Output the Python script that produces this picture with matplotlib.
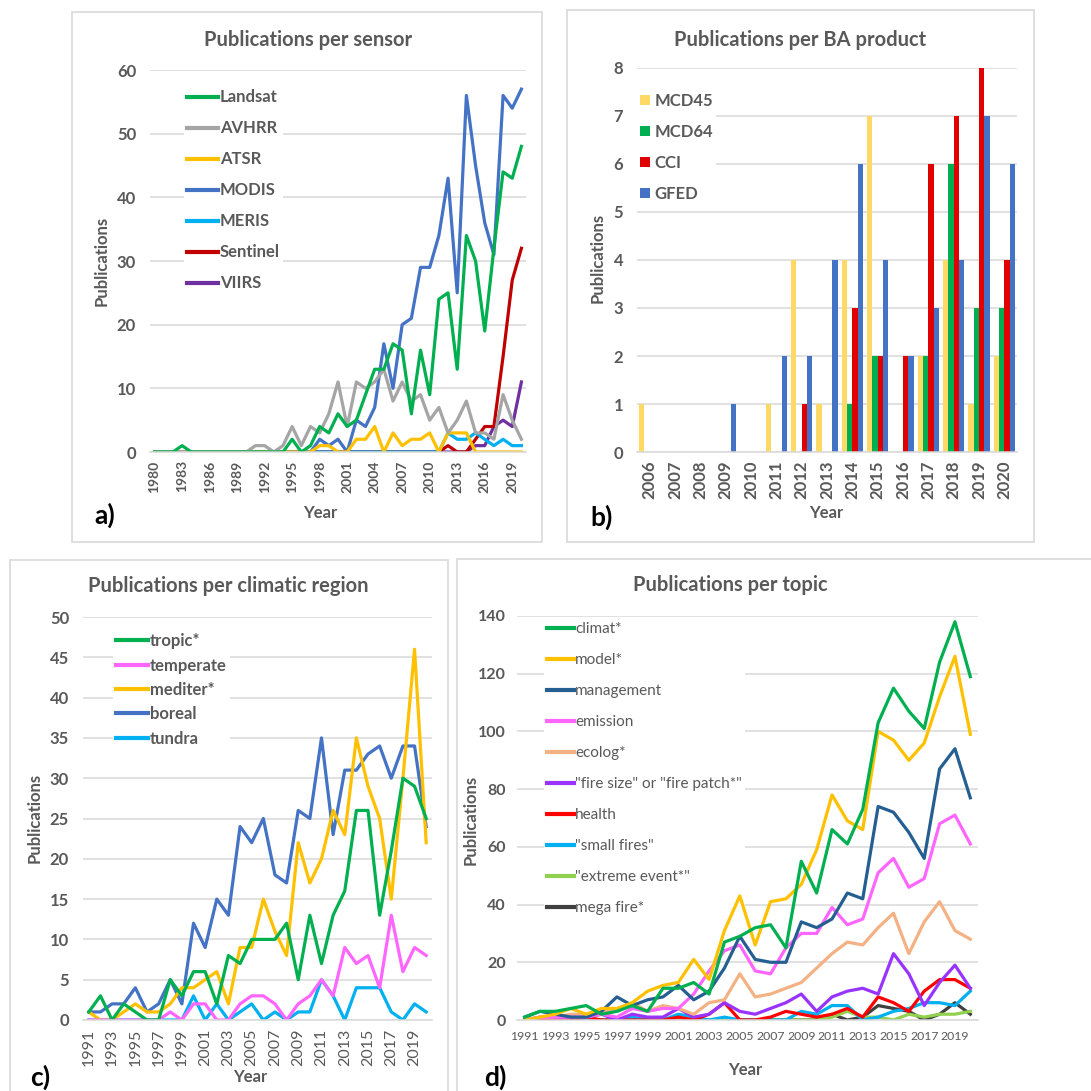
import matplotlib
matplotlib.use("Agg")
import matplotlib.pyplot as plt
from matplotlib.patches import Rectangle, Patch
from matplotlib.lines import Line2D
import numpy as np

plt.rcParams['font.family'] = ['Lato', 'DejaVu Sans']

# ---------------- data ----------------
years_a = list(range(1980, 2021))
landsat = [0,0,0,1,0,0,0,0,0,0,0,0,0,0,0,2,0,1,4,3,6,4,5,9,13,13,17,16,6,16,9,24,25,13,34,30,19,32,44,43,48]
avhrr   = [0,0,0,0,0,0,0,0,0,0,0,1,1,0,1,4,1,4,3,6,11,4,11,10,11,13,8,11,8,9,5,7,3,5,8,3,3,2,9,5,2]
atsr    = [0,0,0,0,0,0,0,0,0,0,0,0,0,0,0,0,0,0,1,1,0,0,2,2,4,0,3,1,2,2,3,0,3,3,3,0,0,0,0,0,0]
modis   = [0,0,0,0,0,0,0,0,0,0,0,0,0,0,0,0,0,0,2,1,2,0,5,4,7,17,10,20,21,29,29,34,43,25,56,45,36,31,56,54,57]
meris   = [0,0,0,0,0,0,0,0,0,0,0,0,0,0,0,0,0,0,0,0,0,0,0,0,0,0,0,0,0,0,0,0,3,2,2,3,2,1,2,1,1]
sentinel= [0,0,0,0,0,0,0,0,0,0,0,0,0,0,0,0,0,0,0,0,0,0,0,0,0,0,0,0,0,0,0,0,1,0,0,2,4,4,15,27,32]
viirs   = [0,0,0,0,0,0,0,0,0,0,0,0,0,0,0,0,0,0,0,0,0,0,0,0,0,0,0,0,0,0,0,0,0,0,0,1,1,4,5,4,11]
sensor_names = ["Landsat", "AVHRR", "ATSR", "MODIS", "MERIS", "Sentinel", "VIIRS"]
sensor_colors = ["#00B050", "#A5A5A5", "#FFC000", "#4472C4", "#00B0F0", "#C00000", "#7030A0"]

years_b = list(range(2006, 2021))
mcd45 = [1,0,0,0,0,1,4,1,4,7,0,2,4,1,2]
mcd64 = [0,0,0,0,0,0,0,0,1,2,0,2,6,3,3]
cci   = [0,0,0,0,0,0,1,0,3,2,2,6,7,8,4]
gfed  = [0,0,0,1,0,2,2,4,6,4,2,3,4,7,6]
product_names = ["MCD45", "MCD64", "CCI", "GFED"]
product_colors = ["#FFD966", "#00B050", "#E00000", "#4472C4"]

years_cd = list(range(1991, 2021))
tropic    = [1,3,0,2,1,0,0,5,3,6,6,2,8,7,10,10,10,12,5,13,7,13,16,26,26,13,21,30,29,25]
temperate = [0,0,0,0,0,0,0,1,0,2,2,0,0,2,3,3,2,0,2,3,5,3,9,7,8,4,13,6,9,8]
mediter   = [1,0,0,1,2,1,1,2,4,4,5,6,2,9,9,15,11,8,22,17,20,26,23,35,29,25,15,30,46,22]
boreal    = [1,1,2,2,4,1,2,5,2,12,9,15,13,24,22,25,18,17,26,25,35,23,31,31,33,34,30,34,34,24]
tundra    = [0,0,0,0,0,0,0,0,0,3,0,2,0,1,2,0,1,0,1,1,5,3,0,4,4,4,1,0,2,1]
region_names = ["tropic*", "temperate", "mediter*", "boreal", "tundra"]
region_colors = ["#00B050", "#FF66FF", "#FFC000", "#4472C4", "#00B0F0"]

climat     = [1,3,3,4,5,2,3,5,3,11,11,13,9,27,29,32,33,25,55,44,66,61,73,103,115,107,101,124,138,119]
model      = [0,1,2,4,2,4,4,6,10,12,13,21,14,31,43,26,41,42,47,59,78,69,66,100,97,90,96,112,126,99]
management = [1,3,2,1,1,3,8,5,7,8,12,7,10,18,29,21,20,20,34,32,35,44,42,74,72,65,56,87,94,77]
emission   = [0,1,1,1,1,2,1,4,3,4,4,9,17,24,26,17,16,25,30,30,39,33,35,51,56,46,49,68,71,61]
ecolog     = [0,1,1,2,2,3,3,6,3,5,4,2,6,7,16,8,9,11,13,18,23,27,26,32,37,23,34,41,31,28]
fire_size  = [0,1,1,1,1,2,0,2,1,1,4,1,2,6,3,2,4,6,9,3,8,10,11,9,23,16,5,13,19,11]
health     = [0,0,0,0,1,0,0,0,0,0,1,0,2,6,0,0,1,3,2,1,2,4,1,8,6,3,10,14,14,11]
small_fires= [0,0,0,0,0,0,0,1,0,0,2,1,0,1,0,0,0,0,3,2,5,5,0,1,3,4,6,6,5,10]
extreme    = [0,0,0,0,0,0,0,0,0,0,0,0,0,0,0,0,0,0,0,0,1,3,1,1,0,2,1,2,2,3]
mega_fire  = [0,0,0,0,0,0,0,0,0,0,0,0,0,0,0,0,0,0,0,0,2,0,1,5,4,3,0,2,6,2]
topic_names = ["climat*", "model*", "management", "emission", "ecolog*",
               "\"fire size\" or \"fire patch*\"", "health", "\"small fires\"",
               "\"extreme event*\"", "mega fire*"]
topic_colors = ["#00B050", "#FFC000", "#255E91", "#FF66FF", "#F4B183",
                "#9933FF", "#FF0000", "#00B0F0", "#92D050", "#404040"]

# ---------------- figure ----------------
W = H = 1091
fig = plt.figure(figsize=(W / 100, H / 100), dpi=100)
TXT = "#595959"
GRID = "#D9D9D9"
LEGFS = 12
TITLEFS = 14.5
LABFS = 12
PANELFS = 19


def px_axes(l, t, r, b):
    return fig.add_axes([l / W, 1 - b / H, (r - l) / W, (b - t) / H])


def border(l, t, r, b):
    fig.patches.append(Rectangle((l / W, 1 - b / H), (r - l) / W, (b - t) / H,
                                 transform=fig.transFigure, fill=False,
                                 edgecolor="#D9D9D9", lw=1.2, zorder=0))


def style(ax, ymax, ystep, yfs=12, pad=10):
    ax.set_ylim(0, ymax)
    ax.set_yticks(np.arange(0, ymax + 0.001, ystep))
    ax.yaxis.grid(True, color=GRID, lw=1.1)
    ax.set_axisbelow(True)
    for s in ["top", "right", "left"]:
        ax.spines[s].set_visible(False)
    ax.spines["bottom"].set_color(GRID)
    ax.spines["bottom"].set_linewidth(1.1)
    ax.tick_params(axis="y", length=0, pad=pad, labelsize=yfs, labelcolor=TXT)
    ax.tick_params(axis="x", length=0, labelcolor=TXT)
    for lab in ax.get_yticklabels():
        lab.set_fontweight("bold")


def ftext(x, y, s, **kw):
    fig.text(x / W, 1 - y / H, s, **kw)


def style_legend(leg, bold=True):
    leg.set_zorder(1)
    for t in leg.get_texts():
        t.set_color(TXT)
        if bold:
            t.set_fontweight("bold")


# borders
border(72, 12, 542, 542)
border(567, 10, 1034, 542)
border(10, 560, 448, 1100)
border(457, 559, 1100, 1100)

# ---------------- a ----------------
axa = px_axes(150, 70, 526, 452)
xa = np.arange(len(years_a))
for vals, c, n in zip([landsat, avhrr, atsr, modis, meris, sentinel, viirs][::-1],
                      sensor_colors[::-1], sensor_names[::-1]):
    axa.plot(xa, vals, color=c, lw=2.3, label=n, zorder=2)
axa.set_xlim(-0.5, len(years_a) - 0.5)
style(axa, 60, 10)
axa.set_xticks(xa[::3])
axa.set_xticklabels([str(y) for y in years_a[::3]], rotation=90, fontsize=10,
                    fontweight="bold", color=TXT)
axa.tick_params(axis="x", pad=6)
handles = [Line2D([], [], color=c, lw=3) for c in sensor_colors]
leg = axa.legend(handles, sensor_names, loc="upper left",
                 bbox_to_anchor=((184 - 150) / 376, (452 - 86) / 382),
                 frameon=True, facecolor="white", edgecolor="none", framealpha=1,
                 fontsize=LEGFS, handlelength=1.85, handletextpad=0.1,
                 labelspacing=0.9, borderpad=0.2, borderaxespad=0)
style_legend(leg)
ftext(308, 40, "Publications per sensor", ha="center", va="center",
      fontsize=TITLEFS, fontweight="bold", color=TXT)
ftext(102, 261, "Publications", ha="center", va="center", rotation=90,
      fontsize=LABFS, fontweight="bold", color=TXT)
ftext(320, 513, "Year", ha="center", va="center", fontsize=LABFS,
      fontweight="bold", color=TXT)
ftext(105, 515, "a)", ha="center", va="center", fontsize=PANELFS, fontweight="bold",
      color="black")

# ---------------- b ----------------
axb = px_axes(637, 68, 1017, 452)
xb = np.arange(len(years_b))
bw = 0.21
for i, (vals, c, n) in enumerate(zip([mcd45, mcd64, cci, gfed], product_colors,
                                     product_names)):
    axb.bar(xb + (i - 1.5) * bw, vals, width=bw, color=c, label=n, zorder=2)
axb.set_xlim(-0.5, len(years_b) - 0.5)
style(axb, 8, 1)
axb.set_xticks(xb)
axb.set_xticklabels([str(y) for y in years_b], rotation=90, fontsize=12,
                    fontweight="bold", color=TXT)
axb.tick_params(axis="x", pad=6)
handles = [Patch(facecolor=c) for c in product_colors]
leg = axb.legend(handles, product_names, loc="upper left",
                 bbox_to_anchor=(0.0, (452 - 89.5) / 384),
                 frameon=True, facecolor="white", edgecolor="none", framealpha=1,
                 fontsize=LEGFS, handlelength=0.6, handleheight=0.6,
                 handletextpad=0.25, labelspacing=0.9, borderpad=0.2,
                 borderaxespad=0)
style_legend(leg)
ftext(800, 40, "Publications per BA product", ha="center", va="center",
      fontsize=TITLEFS, fontweight="bold", color=TXT)
ftext(598, 258, "Publications", ha="center", va="center", rotation=90,
      fontsize=LABFS, fontweight="bold", color=TXT)
ftext(826, 513, "Year", ha="center", va="center", fontsize=LABFS,
      fontweight="bold", color=TXT)
ftext(602, 517, "b)", ha="center", va="center", fontsize=PANELFS, fontweight="bold",
      color="black")

# ---------------- c ----------------
axc = px_axes(83, 617, 432, 1020)
xc = np.arange(len(years_cd))
for vals, c, n in zip([tropic, temperate, mediter, boreal, tundra][::-1],
                      region_colors[::-1], region_names[::-1]):
    axc.plot(xc, vals, color=c, lw=2.3, label=n, zorder=2)
axc.set_xlim(-0.5, len(years_cd) - 0.5)
style(axc, 50, 5)
axc.set_xticks(xc[::2])
axc.set_xticklabels([str(y) for y in years_cd[::2]], rotation=90, fontsize=11.5,
                    color=TXT)
axc.tick_params(axis="x", pad=6)
handles = [Line2D([], [], color=c, lw=3) for c in region_colors]
leg = axc.legend(handles, region_names, loc="upper left",
                 bbox_to_anchor=((113 - 83) / 349, (1020 - 630) / 403),
                 frameon=True, facecolor="white", edgecolor="none", framealpha=1,
                 fontsize=LEGFS, handlelength=1.9, handletextpad=0.1,
                 labelspacing=0.5, borderpad=0.2, borderaxespad=0)
style_legend(leg)
ftext(228, 586, "Publications per climatic region", ha="center", va="center",
      fontsize=TITLEFS, fontweight="bold", color=TXT)
ftext(35, 818, "Publications", ha="center", va="center", rotation=90,
      fontsize=LABFS, fontweight="bold", color=TXT)
ftext(250, 1077, "Year", ha="center", va="center", fontsize=LABFS,
      fontweight="bold", color=TXT)
ftext(40, 1077, "c)", ha="center", va="center", fontsize=PANELFS, fontweight="bold",
      color="black")

# ---------------- d ----------------
axd = px_axes(517, 616, 978, 1020)
xd = np.arange(len(years_cd))
series_d = [climat, model, management, emission, ecolog, fire_size, health,
            small_fires, extreme, mega_fire]
for vals, c, n in zip(series_d[::-1], topic_colors[::-1], topic_names[::-1]):
    axd.plot(xd, vals, color=c, lw=2.3, label=n, zorder=2)
axd.set_xlim(-0.5, len(years_cd) - 0.5)
style(axd, 140, 20, yfs=11.5, pad=8)
axd.set_xticks(xd[::2])
axd.set_xticklabels([str(y) for y in years_cd[::2]], fontsize=8.8, color=TXT)
axd.tick_params(axis="x", pad=8)
handles = [Line2D([], [], color=c, lw=3) for c in topic_colors]
leg = axd.legend(handles, topic_names, loc="upper left",
                 bbox_to_anchor=((544 - 517) / 461, (1020 - 619) / 404),
                 frameon=True, facecolor="white", edgecolor="none", framealpha=1,
                 fontsize=11, handlelength=1.75, handletextpad=0.1,
                 labelspacing=1.115, borderpad=0.2, borderaxespad=0)
style_legend(leg, bold=False)
ftext(730, 585, "Publications per topic", ha="center", va="center",
      fontsize=TITLEFS, fontweight="bold", color=TXT)
ftext(471, 820, "Publications", ha="center", va="center", rotation=90,
      fontsize=LABFS, fontweight="bold", color=TXT)
ftext(745, 1070, "Year", ha="center", va="center", fontsize=LABFS,
      fontweight="bold", color=TXT)
ftext(495, 1077, "d)", ha="center", va="center", fontsize=PANELFS, fontweight="bold",
      color="black")

fig.savefig("out.png", dpi=100, facecolor="white")
